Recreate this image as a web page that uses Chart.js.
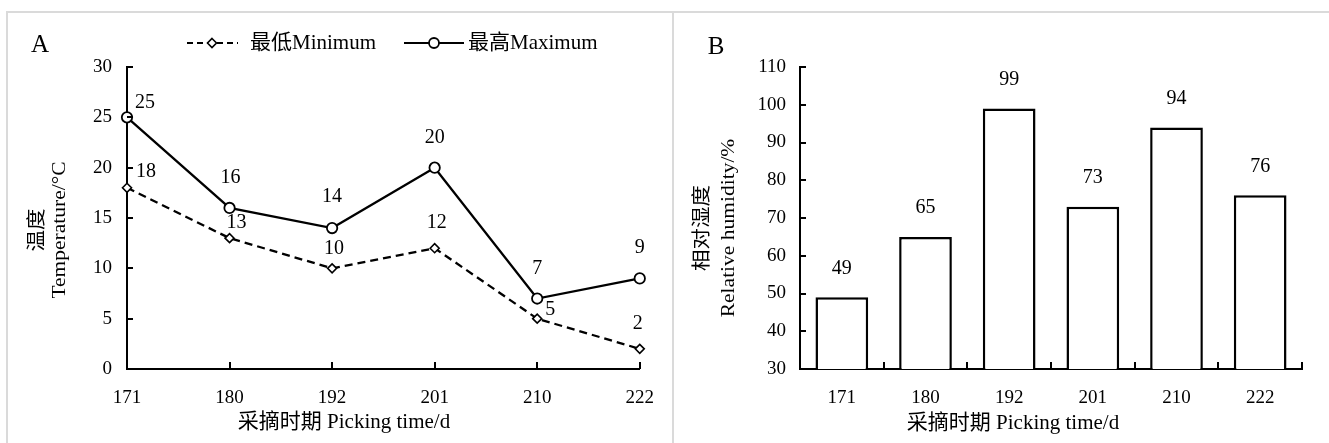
<!DOCTYPE html>
<html lang="zh">
<head>
<meta charset="UTF-8">
<title>Temperature and humidity at picking time</title>
<script src="https://cdn.jsdelivr.net/npm/chart.js"></script>
<style>
  body { margin: 0; background: #fff; width: 1329px; height: 443px; overflow: hidden; position: relative; }
  .frame { position: absolute; left: 6px; top: 11px; width: 1323px; height: 432px;
           border-top: 2px solid #dadada; border-left: 2px solid #dadada; }
  .divider { position: absolute; left: 672px; top: 11px; width: 2px; height: 432px; background: #dadada; }
  canvas { position: absolute; }
  #chartA { left: 9px; top: 14px; }
  #chartB { left: 675px; top: 14px; }
</style>
</head>
<body>
<div class="frame"></div>
<div class="divider"></div>
<canvas id="chartA" width="663" height="429"></canvas>
<canvas id="chartB" width="654" height="429"></canvas>
<script>
// data
const pickingDays = ['171', '180', '192', '201', '210', '222'];
const tempMin = [18, 13, 10, 12, 5, 2];
const tempMax = [25, 16, 14, 20, 7, 9];
const humidity = [49, 65, 99, 73, 94, 76];

const SERIF = '"Liberation Serif", "Times New Roman", "Noto Sans CJK SC", serif';
const font = (size) => ({ family: SERIF, size: size });

// where each value label sits relative to its point (dx, dy)
const minLabelShift = [[19, -16], [7, -15], [2, -20], [2, -25], [13, -9], [-2, -25]];
const maxLabelShift = [[18, -15], [1, -30], [0, -31], [0, -30], [0, -30], [0, -31]];

// small inward tick marks on both axes
function tickMarks(betweenCategories) {
  return {
    id: 'tickMarks',
    afterDraw(chart) {
      const ctx = chart.ctx, x = chart.scales.x, y = chart.scales.y;
      const area = chart.chartArea;
      ctx.save();
      ctx.strokeStyle = '#000';
      ctx.lineWidth = 2;
      ctx.beginPath();
      y.ticks.forEach((t, i) => {
        if (i === 0) return;
        const py = Math.round(y.getPixelForTick(i));
        ctx.moveTo(area.left, py);
        ctx.lineTo(area.left + 6, py);
      });
      for (let i = 0; i < pickingDays.length; i++) {
        let px;
        if (betweenCategories) px = x.getPixelForValue(i + 0.5);
        else if (i > 0) px = x.getPixelForTick(i);
        else continue;
        px = Math.round(px);
        ctx.moveTo(px, area.bottom);
        ctx.lineTo(px, area.bottom - 7);
      }
      ctx.stroke();
      ctx.restore();
    }
  };
}

// value labels above points / bars
function valueLabels(shifts) {
  return {
    id: 'valueLabels',
    afterDatasetsDraw(chart) {
      const ctx = chart.ctx;
      ctx.save();
      ctx.font = '20px ' + SERIF;
      ctx.fillStyle = '#000';
      ctx.textAlign = 'center';
      ctx.textBaseline = 'middle';
      chart.data.datasets.forEach((ds, d) => {
        chart.getDatasetMeta(d).data.forEach((el, i) => {
          const s = shifts[d][i];
          ctx.fillText(String(ds.data[i]), el.x + s[0], el.y + s[1]);
        });
      });
      ctx.restore();
    }
  };
}

// panel letter, axis titles
function decorations(letter, letterPos, yLines, yXs, yCenter, xTitle, xPos) {
  return {
    id: 'decorations',
    afterDraw(chart) {
      const ctx = chart.ctx;
      ctx.save();
      ctx.fillStyle = '#000';
      ctx.textAlign = 'center';
      ctx.textBaseline = 'middle';
      ctx.font = '25px ' + SERIF;
      ctx.fillText(letter, letterPos[0], letterPos[1]);
      ctx.font = '21px ' + SERIF;
      ctx.fillText(xTitle, xPos[0], xPos[1]);
      ctx.font = '21.5px ' + SERIF;
      yLines.forEach((line, i) => {
        ctx.save();
        ctx.translate(yXs[i], yCenter);
        ctx.rotate(-Math.PI / 2);
        ctx.scale(1, 0.88);
        ctx.fillText(line, 0, 0);
        ctx.restore();
      });
      ctx.restore();
    }
  };
}

const tempLegend = {
  id: 'tempLegend',
  afterDraw(chart) {
    const ctx = chart.ctx, y = 29;
    ctx.save();
    ctx.strokeStyle = '#000';
    ctx.lineWidth = 2.2;
    ctx.setLineDash([6, 4]);
    ctx.beginPath(); ctx.moveTo(178, y); ctx.lineTo(229, y); ctx.stroke();
    ctx.setLineDash([]);
    ctx.beginPath(); ctx.moveTo(395, y); ctx.lineTo(455, y); ctx.stroke();
    ctx.fillStyle = '#fff';
    ctx.lineWidth = 1.6;
    ctx.beginPath();
    ctx.moveTo(203, y - 4.5); ctx.lineTo(207.5, y); ctx.lineTo(203, y + 4.5); ctx.lineTo(198.5, y);
    ctx.closePath(); ctx.fill(); ctx.stroke();
    ctx.lineWidth = 1.8;
    ctx.beginPath(); ctx.arc(425, y, 5, 0, Math.PI * 2); ctx.fill(); ctx.stroke();
    ctx.fillStyle = '#000';
    ctx.font = '21px ' + SERIF;
    ctx.textBaseline = 'middle';
    ctx.fillText('最低Minimum', 241, y);
    ctx.fillText('最高Maximum', 459, y);
    ctx.restore();
  }
};

const axisBorder = { display: true, color: '#000', width: 2 };

new Chart(document.getElementById('chartA'), {
  type: 'line',
  data: {
    labels: pickingDays,
    datasets: [
      { label: '最低Minimum', data: tempMin, borderColor: '#000', borderWidth: 2.3, borderDash: [8, 5],
        pointStyle: 'rectRot', pointRadius: 4.5, pointBorderWidth: 1.6, pointBackgroundColor: '#fff',
        pointBorderColor: '#000', tension: 0, clip: false },
      { label: '最高Maximum', data: tempMax, borderColor: '#000', borderWidth: 2.3,
        pointStyle: 'circle', pointRadius: 5.2, pointBorderWidth: 1.8, pointBackgroundColor: '#fff',
        pointBorderColor: '#000', tension: 0, clip: false }
    ]
  },
  options: {
    responsive: false,
    animation: false,
    devicePixelRatio: 1,
    layout: { padding: { top: 53, right: 32, left: 0, bottom: 0 } },
    plugins: { legend: { display: false }, tooltip: { enabled: false } },
    scales: {
      x: {
        offset: false,
        grid: { display: false, drawTicks: false },
        border: axisBorder,
        ticks: { color: '#000', font: font(19), padding: 18, maxRotation: 0 },
        afterFit(s) { s.height = 74; }
      },
      y: {
        min: 0, max: 30,
        grid: { display: false, drawTicks: false },
        border: axisBorder,
        ticks: { stepSize: 5, color: '#000', font: font(19), padding: 15 },
        afterFit(s) { s.width = 118; }
      }
    }
  },
  plugins: [tickMarks(false), valueLabels([minLabelShift, maxLabelShift]), tempLegend,
    decorations('A', [31, 31], ['温度', 'Temperature/°C'], [29, 51], 216, '采摘时期 Picking time/d', [335, 408])]
});

new Chart(document.getElementById('chartB'), {
  type: 'bar',
  data: {
    labels: pickingDays,
    datasets: [
      { label: '相对湿度', data: humidity, backgroundColor: '#fff', borderColor: '#000', borderWidth: 2.5,
        categoryPercentage: 1, barPercentage: 0.63 }
    ]
  },
  options: {
    responsive: false,
    animation: false,
    devicePixelRatio: 1,
    layout: { padding: { top: 53, right: 27, left: 0, bottom: 0 } },
    plugins: { legend: { display: false }, tooltip: { enabled: false } },
    scales: {
      x: {
        grid: { display: false, drawTicks: false },
        border: axisBorder,
        ticks: { color: '#000', font: font(19), padding: 18, maxRotation: 0 },
        afterFit(s) { s.height = 74; }
      },
      y: {
        min: 30, max: 110,
        grid: { display: false, drawTicks: false },
        border: axisBorder,
        ticks: { stepSize: 10, color: '#000', font: font(19), padding: 14 },
        afterFit(s) { s.width = 125; }
      }
    }
  },
  plugins: [tickMarks(true), valueLabels([humidity.map(() => [0, -29])]),
    decorations('B', [41, 33], ['相对湿度', 'Relative humidity/%'], [28, 54], 214, '采摘时期 Picking time/d', [338, 409])]
});
</script>
</body>
</html>
